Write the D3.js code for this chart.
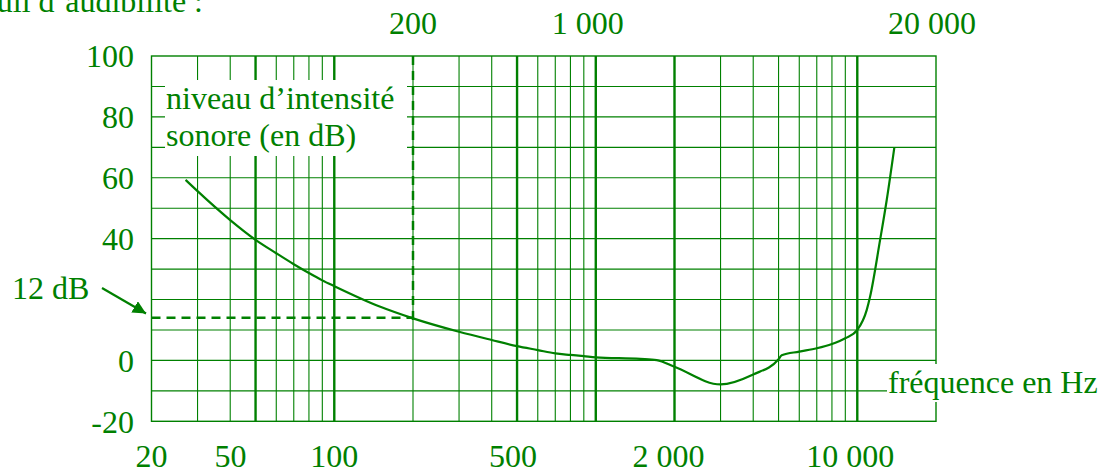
<!DOCTYPE html>
<html>
<head>
<meta charset="utf-8">
<script src="https://cdn.jsdelivr.net/npm/d3@7"></script>
<style>
  body { margin: 0; background: #fff; }
  svg text { font-family: "Liberation Serif", "DejaVu Serif", serif; fill: #008000; }
</style>
</head>
<body>
<svg id="chart" width="1101" height="473"></svg>
<script>
// threshold of hearing curve
var freqs  = [27, 30, 40, 50, 60, 70, 80, 90, 100, 150, 200, 300, 400, 500, 600, 700, 800, 900, 1000, 1480, 1710, 2000, 3000, 4000, 5000, 5140, 6000, 7000, 8000, 9000, 10000, 10870, 11190, 12220, 12960, 13860];
var levels = [59.3, 55.6, 46.1, 39.6, 35.2, 31.6, 28.7, 26.3, 24.4, 17.6, 13.8, 9.4, 6.7, 4.7, 3.4, 2.3, 1.8, 1.4, 1.0, 0.5, 0.1, -2.1, -7.9, -4.6, 0.4, 1.7, 2.9, 4.0, 5.4, 7.3, 10, 16.6, 20.9, 39.5, 52.7, 70];

// grid
var vLines    = [30, 40, 50, 60, 70, 80, 90, 100, 200, 300, 400, 500, 600, 700, 800, 900, 1000, 2000, 3000, 4000, 5000, 6000, 7000, 8000, 9000, 10000];
var boldLines = [50, 100, 500, 1000, 2000, 10000];
var hLines    = [-10, 0, 10, 20, 30, 40, 50, 60, 70, 80, 90];

// tick labels
var yLabels      = [100, 80, 60, 40, 0, -20];
var bottomLabels = [20, 50, 100, 500, 2000, 10000];
var topLabels    = [200, 1000, 20000];

// marked point
var markFreq = 200, markLevel = 14;

var green = "#008000";
var fs = 32;
var svg = d3.select("#chart");

var x = d3.scaleLog().domain([20, 20000]).range([151.5, 936]);
var y = d3.scaleLinear().domain([-20, 100]).range([421.3, 56]);

var fmt = function (v) { return d3.format(",")(v).replace(/,/g, " "); };
// small shifts so labels sit like in the original print
var nudge = { 50: -25, 500: -4, 2000: -6, 10000: -7, 1000: -8, 20000: -4 };

var grid = svg.append("g");

grid.selectAll(".h")
    .data(hLines)
    .enter().append("line")
    .attr("x1", x(20)).attr("x2", x(20000))
    .attr("y1", function (d) { return y(d); })
    .attr("y2", function (d) { return y(d); })
    .attr("stroke", green).attr("stroke-width", 1.1);

grid.selectAll(".v")
    .data(vLines)
    .enter().append("line")
    .attr("x1", function (d) { return x(d); })
    .attr("x2", function (d) { return x(d); })
    .attr("y1", y(100)).attr("y2", y(-20))
    .attr("stroke", green)
    .attr("stroke-width", function (d) { return boldLines.indexOf(d) >= 0 ? 2.4 : 1.1; });

// frame
grid.append("rect")
    .attr("x", x(20)).attr("y", y(100))
    .attr("width", x(20000) - x(20)).attr("height", y(-20) - y(100))
    .attr("fill", "none").attr("stroke", green).attr("stroke-width", 1.4);

// curve
var line = d3.line()
    .x(function (d) { return x(d[0]); })
    .y(function (d) { return y(d[1]); })
    .curve(d3.curveMonotoneX);

svg.append("path")
    .datum(d3.zip(freqs, levels))
    .attr("d", line)
    .attr("fill", "none")
    .attr("stroke", green)
    .attr("stroke-width", 2.2);

// dashed guides for the 200 Hz point
svg.append("line")
    .attr("x1", x(20)).attr("x2", x(markFreq))
    .attr("y1", y(markLevel)).attr("y2", y(markLevel))
    .attr("stroke", green).attr("stroke-width", 2.5).attr("stroke-dasharray", "9,6");
svg.append("line")
    .attr("x1", x(markFreq)).attr("x2", x(markFreq))
    .attr("y1", y(100)).attr("y2", y(markLevel) + 8)
    .attr("stroke", green).attr("stroke-width", 2.5).attr("stroke-dasharray", "9,6");

// axis title box (covers grid)
svg.append("rect").attr("x", 165).attr("y", 80).attr("width", 242).attr("height", 76).attr("fill", "#fff");
svg.append("text").attr("x", 166).attr("y", 109).attr("font-size", fs).text("niveau d’intensité");
svg.append("text").attr("x", 166).attr("y", 146).attr("font-size", fs).text("sonore (en dB)");

svg.append("rect").attr("x", 887).attr("y", 364).attr("width", 214).attr("height", 38).attr("fill", "#fff");
svg.append("text").attr("x", 888).attr("y", 393).attr("font-size", fs).text("fréquence en Hz");

svg.append("text")
    .attr("x", 203).attr("y", 12)
    .attr("text-anchor", "end").attr("font-size", fs)
    .text("Seuil d’audibilité :");

// y labels
svg.selectAll(".yl")
    .data(yLabels)
    .enter().append("text")
    .attr("x", 134)
    .attr("y", function (d) { return y(d); })
    .attr("dy", "0.35em")
    .attr("text-anchor", "end").attr("font-size", fs)
    .text(function (d) { return d; });

// x labels
svg.selectAll(".bl")
    .data(bottomLabels)
    .enter().append("text")
    .attr("x", function (d) { return x(d) + (nudge[d] || 0); })
    .attr("y", 467)
    .attr("text-anchor", "middle").attr("font-size", fs)
    .text(fmt);

svg.selectAll(".tl")
    .data(topLabels)
    .enter().append("text")
    .attr("x", function (d) { return x(d) + (nudge[d] || 0); })
    .attr("y", 34)
    .attr("text-anchor", "middle").attr("font-size", fs)
    .text(fmt);

// 12 dB arrow
svg.append("defs").append("marker")
    .attr("id", "head")
    .attr("viewBox", "0 0 10 10")
    .attr("refX", 10).attr("refY", 5)
    .attr("markerWidth", 6).attr("markerHeight", 6)
    .attr("markerUnits", "strokeWidth")
    .attr("orient", "auto")
    .append("path").attr("d", "M0,0 L10,5 L0,10 Z").attr("fill", green);

svg.append("line")
    .attr("x1", 102).attr("y1", 288)
    .attr("x2", 146).attr("y2", 313.5)
    .attr("stroke", green).attr("stroke-width", 2.2)
    .attr("marker-end", "url(#head)");

svg.append("text").attr("x", 12).attr("y", 299).attr("font-size", fs).text("12 dB");
</script>
</body>
</html>
